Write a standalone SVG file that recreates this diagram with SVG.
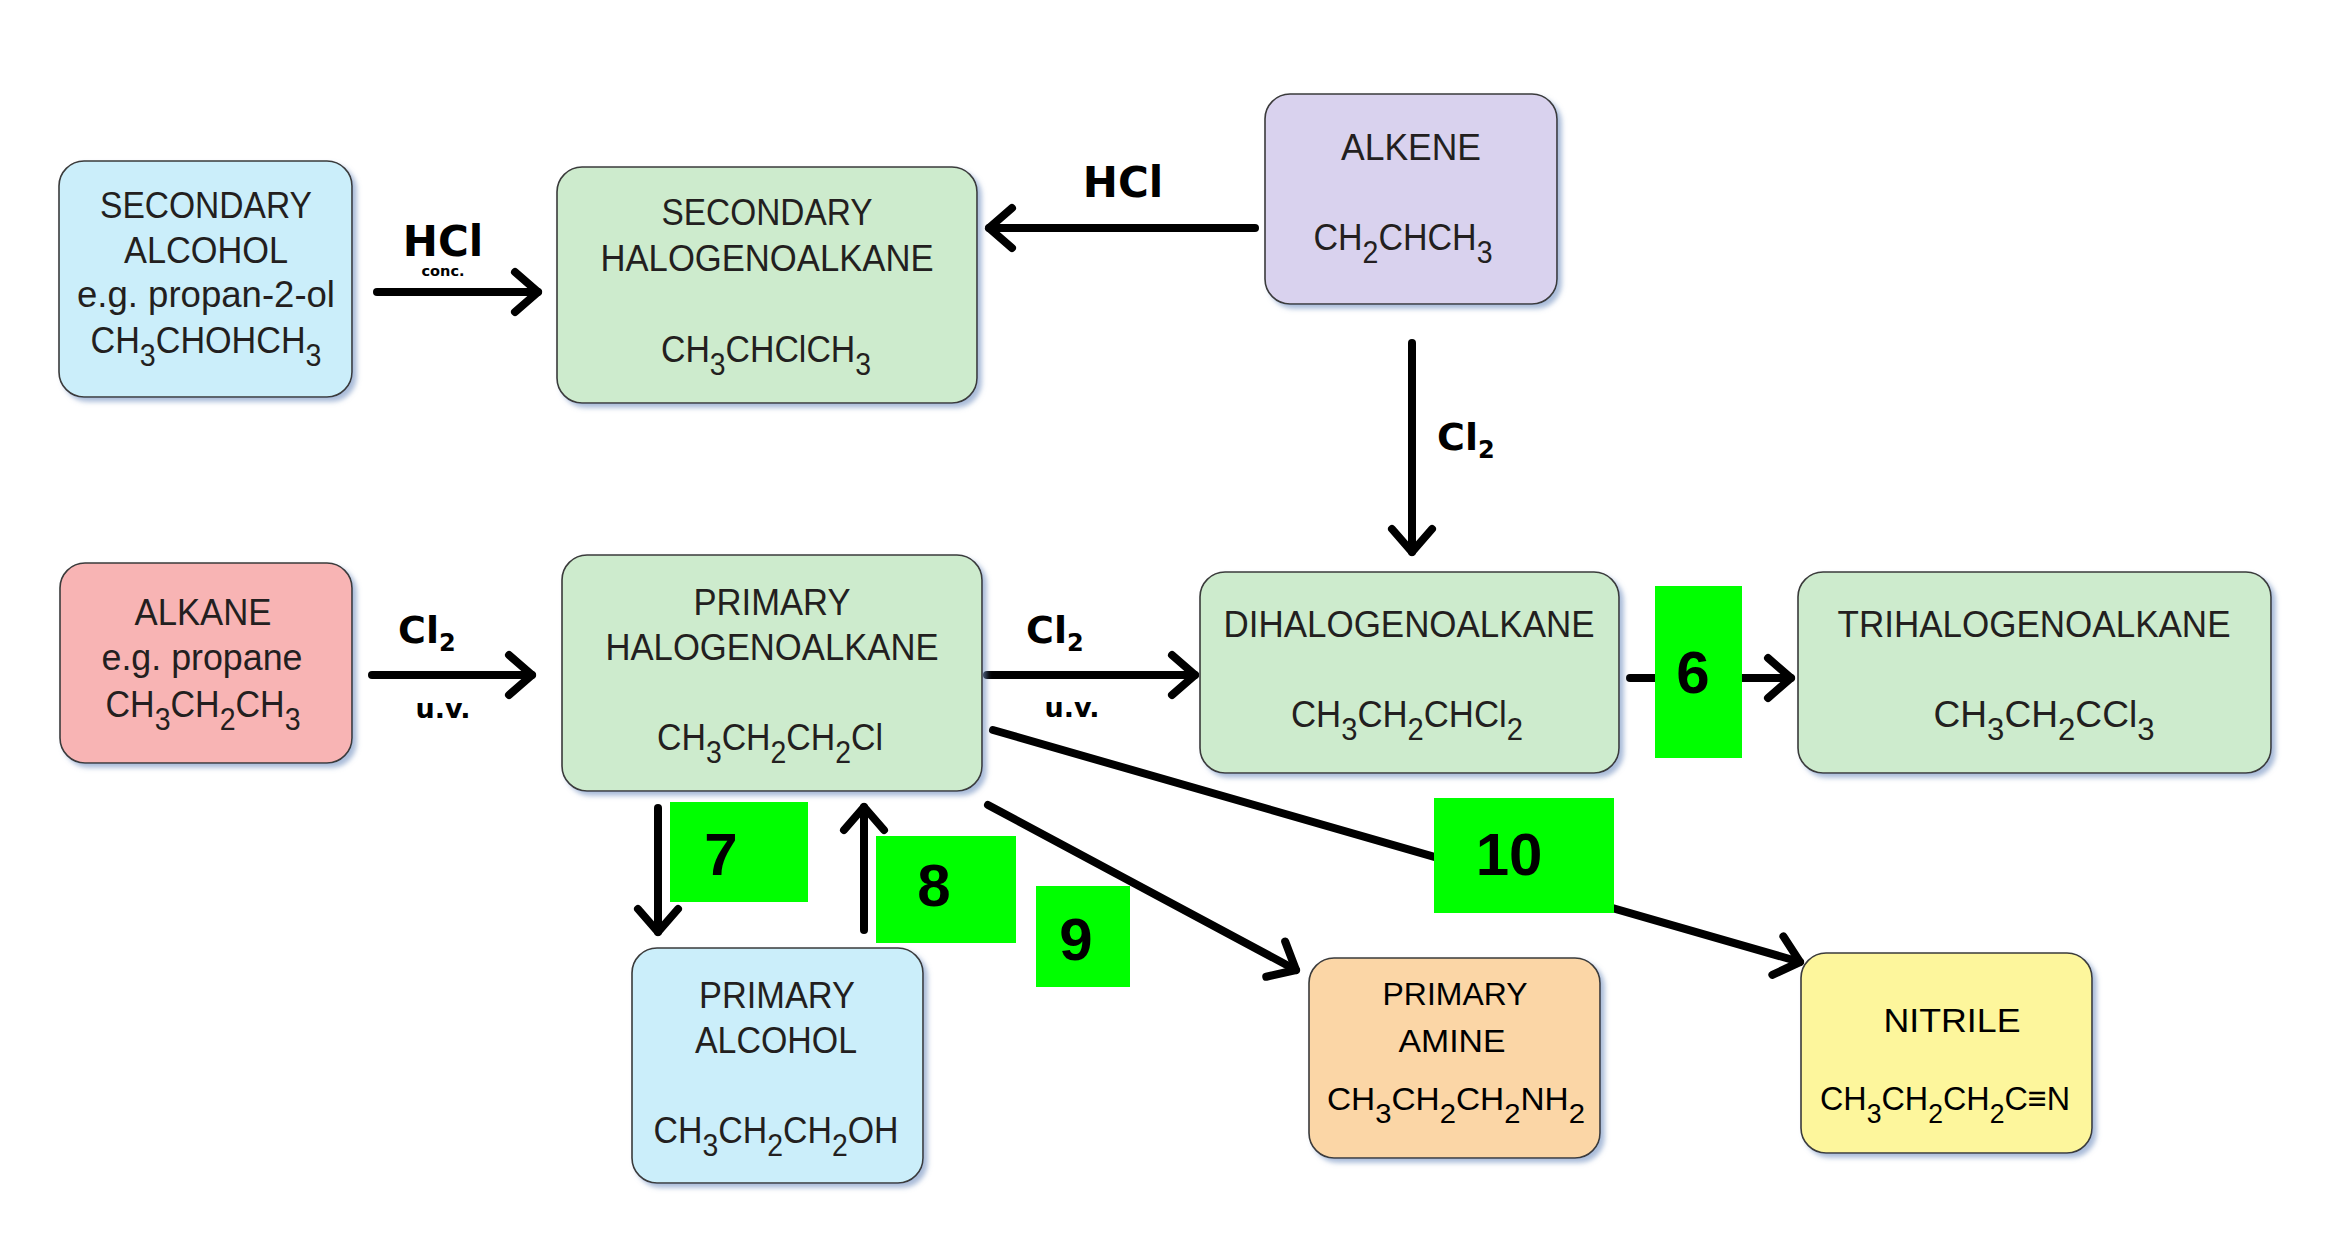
<svg xmlns="http://www.w3.org/2000/svg" width="2336" height="1244" viewBox="0 0 2336 1244">
<style>
.box{stroke:#3a3a3a;stroke-width:1.6;filter:url(#sh)}
.blue{fill:#cbeefa}.green{fill:#cdebcd}.lav{fill:#d9d2ee}.pink{fill:#f8b4b4}.orange{fill:#fbd6a6}.yellow{fill:#fdf69c}
.t{font-family:"Liberation Sans",Arial,sans-serif;font-size:37px;fill:#231f20;text-anchor:middle}
.a{font-size:32px;fill:#000}
.n{font-size:34px;fill:#000}
.sb{font-size:31px}
.sa{font-size:28px}
.lbl{font-family:"DejaVu Sans",Verdana,sans-serif;font-weight:bold;fill:#000}
.num{font-family:"Liberation Sans",Arial,sans-serif;font-weight:bold;font-size:60px;fill:#000;text-anchor:middle}
.gb{fill:#00ff00}
.ln{fill:none;stroke:#000;stroke-width:8;stroke-linecap:round;marker-end:url(#ah)}
</style>
<defs>
<filter id="sh" x="-10%" y="-10%" width="125%" height="125%">
<feDropShadow dx="4" dy="4" stdDeviation="2.5" flood-color="#6f8fc0" flood-opacity="0.6"/>
</filter>
<marker id="ah" markerUnits="userSpaceOnUse" markerWidth="60" markerHeight="60" viewBox="-30 -30 60 60" refX="0" refY="0" orient="auto" overflow="visible">
<path d="M-23,-20 L0,0 L-23,20" fill="none" stroke="#000" stroke-width="8" stroke-linecap="round" stroke-linejoin="round"/>
</marker>
</defs>
<rect x="0" y="0" width="2336" height="1244" fill="#fff"/>

<g id="connectors">
<line class="ln" x1="377" y1="292" x2="538" y2="292"/>
<line class="ln" x1="1255" y1="228" x2="989" y2="228"/>
<line class="ln" x1="1412" y1="343" x2="1412" y2="552"/>
<line class="ln" x1="372" y1="675" x2="532" y2="675"/>
<line class="ln" x1="987" y1="675" x2="1195" y2="675"/>
<line class="ln" x1="1630" y1="678" x2="1791" y2="678"/>
<line class="ln" x1="658" y1="808" x2="658" y2="932"/>
<line class="ln" x1="864" y1="930" x2="864" y2="807"/>
<line class="ln" x1="988" y1="805" x2="1296" y2="970"/>
<line class="ln" x1="993" y1="730" x2="1800" y2="962"/>
<text class="lbl" x="443" y="256" font-size="42" text-anchor="middle">HCl</text>
<text class="lbl" x="443" y="276" font-size="14.5" text-anchor="middle">conc.</text>
<text class="lbl" x="1123" y="197" font-size="42" text-anchor="middle">HCl</text>
<text class="lbl" x="1437" y="450" font-size="38">Cl<tspan font-size="24" dy="8">2</tspan></text>
<text class="lbl" x="398" y="643" font-size="38">Cl<tspan font-size="24" dy="8">2</tspan></text>
<text class="lbl" x="443" y="718" font-size="27" text-anchor="middle">u.v.</text>
<text class="lbl" x="1026" y="643" font-size="38">Cl<tspan font-size="24" dy="8">2</tspan></text>
<text class="lbl" x="1072" y="717" font-size="27" text-anchor="middle">u.v.</text>
</g>

<g id="step6"><rect class="gb" x="1655" y="586" width="87" height="172"/><text class="num" x="1693" y="693">6</text></g>
<g id="step7"><rect class="gb" x="670" y="802" width="138" height="100"/><text class="num" x="721" y="875">7</text></g>
<g id="step8"><rect class="gb" x="876" y="836" width="140" height="107"/><text class="num" x="934" y="906">8</text></g>
<g id="step9"><rect class="gb" x="1036" y="886" width="94" height="101"/><text class="num" x="1076" y="960">9</text></g>
<g id="step10"><rect class="gb" x="1434" y="798" width="180" height="115"/><text class="num" x="1509" y="875">10</text></g>

<g id="secondary-alcohol">
<rect class="box blue" x="59" y="161" width="293" height="236" rx="25"/>
<text class="t" x="206" y="218" textLength="212" lengthAdjust="spacingAndGlyphs">SECONDARY</text>
<text class="t" x="206" y="263" textLength="164" lengthAdjust="spacingAndGlyphs">ALCOHOL</text>
<text class="t" x="206" y="307" textLength="258" lengthAdjust="spacingAndGlyphs">e.g. propan-2-ol</text>
<text class="t" x="206" y="353" textLength="231" lengthAdjust="spacingAndGlyphs">CH<tspan class="sb" dy="13">3</tspan><tspan dy="-13">CHOHCH</tspan><tspan class="sb" dy="13">3</tspan></text>
</g>

<g id="secondary-halogenoalkane">
<rect class="box green" x="557" y="167" width="420" height="236" rx="25"/>
<text class="t" x="767" y="225" textLength="211" lengthAdjust="spacingAndGlyphs">SECONDARY</text>
<text class="t" x="767" y="271" textLength="333" lengthAdjust="spacingAndGlyphs">HALOGENOALKANE</text>
<text class="t" x="766" y="362" textLength="210" lengthAdjust="spacingAndGlyphs">CH<tspan class="sb" dy="13">3</tspan><tspan dy="-13">CHClCH</tspan><tspan class="sb" dy="13">3</tspan></text>
</g>

<g id="alkene">
<rect class="box lav" x="1265" y="94" width="292" height="210" rx="25"/>
<text class="t" x="1411" y="160" textLength="140" lengthAdjust="spacingAndGlyphs">ALKENE</text>
<text class="t" x="1403" y="250" textLength="179" lengthAdjust="spacingAndGlyphs">CH<tspan class="sb" dy="13">2</tspan><tspan dy="-13">CHCH</tspan><tspan class="sb" dy="13">3</tspan></text>
</g>

<g id="alkane">
<rect class="box pink" x="60" y="563" width="292" height="200" rx="25"/>
<text class="t" x="203" y="625" textLength="137" lengthAdjust="spacingAndGlyphs">ALKANE</text>
<text class="t" x="202" y="670" textLength="201" lengthAdjust="spacingAndGlyphs">e.g. propane</text>
<text class="t" x="203" y="717" textLength="195" lengthAdjust="spacingAndGlyphs">CH<tspan class="sb" dy="13">3</tspan><tspan dy="-13">CH</tspan><tspan class="sb" dy="13">2</tspan><tspan dy="-13">CH</tspan><tspan class="sb" dy="13">3</tspan></text>
</g>

<g id="primary-halogenoalkane">
<rect class="box green" x="562" y="555" width="420" height="236" rx="25"/>
<text class="t" x="772" y="615" textLength="157" lengthAdjust="spacingAndGlyphs">PRIMARY</text>
<text class="t" x="772" y="660" textLength="333" lengthAdjust="spacingAndGlyphs">HALOGENOALKANE</text>
<text class="t" x="770" y="750" textLength="226" lengthAdjust="spacingAndGlyphs">CH<tspan class="sb" dy="13">3</tspan><tspan dy="-13">CH</tspan><tspan class="sb" dy="13">2</tspan><tspan dy="-13">CH</tspan><tspan class="sb" dy="13">2</tspan><tspan dy="-13">Cl</tspan></text>
</g>

<g id="dihalogenoalkane">
<rect class="box green" x="1200" y="572" width="419" height="201" rx="25"/>
<text class="t" x="1409" y="637" textLength="371" lengthAdjust="spacingAndGlyphs">DIHALOGENOALKANE</text>
<text class="t" x="1407" y="727" textLength="232" lengthAdjust="spacingAndGlyphs">CH<tspan class="sb" dy="13">3</tspan><tspan dy="-13">CH</tspan><tspan class="sb" dy="13">2</tspan><tspan dy="-13">CHCl</tspan><tspan class="sb" dy="13">2</tspan></text>
</g>

<g id="trihalogenoalkane">
<rect class="box green" x="1798" y="572" width="473" height="201" rx="25"/>
<text class="t" x="2034" y="637" textLength="393" lengthAdjust="spacingAndGlyphs">TRIHALOGENOALKANE</text>
<text class="t" x="2044" y="727" textLength="221" lengthAdjust="spacingAndGlyphs">CH<tspan class="sb" dy="13">3</tspan><tspan dy="-13">CH</tspan><tspan class="sb" dy="13">2</tspan><tspan dy="-13">CCl</tspan><tspan class="sb" dy="13">3</tspan></text>
</g>

<g id="primary-alcohol">
<rect class="box blue" x="632" y="948" width="291" height="235" rx="25"/>
<text class="t" x="777" y="1008" textLength="156" lengthAdjust="spacingAndGlyphs">PRIMARY</text>
<text class="t" x="776" y="1053" textLength="162" lengthAdjust="spacingAndGlyphs">ALCOHOL</text>
<text class="t" x="776" y="1143" textLength="245" lengthAdjust="spacingAndGlyphs">CH<tspan class="sb" dy="13">3</tspan><tspan dy="-13">CH</tspan><tspan class="sb" dy="13">2</tspan><tspan dy="-13">CH</tspan><tspan class="sb" dy="13">2</tspan><tspan dy="-13">OH</tspan></text>
</g>

<g id="primary-amine">
<rect class="box orange" x="1309" y="958" width="291" height="200" rx="25"/>
<text class="t a" x="1455" y="1005" textLength="145" lengthAdjust="spacingAndGlyphs">PRIMARY</text>
<text class="t a" x="1452" y="1052" textLength="107" lengthAdjust="spacingAndGlyphs">AMINE</text>
<text class="t a" x="1456" y="1110" textLength="258" lengthAdjust="spacingAndGlyphs">CH<tspan class="sa" dy="13">3</tspan><tspan dy="-13">CH</tspan><tspan class="sa" dy="13">2</tspan><tspan dy="-13">CH</tspan><tspan class="sa" dy="13">2</tspan><tspan dy="-13">NH</tspan><tspan class="sa" dy="13">2</tspan></text>
</g>

<g id="nitrile">
<rect class="box yellow" x="1801" y="953" width="291" height="200" rx="25"/>
<text class="t n" x="1952" y="1032" textLength="137" lengthAdjust="spacingAndGlyphs">NITRILE</text>
<text class="t n" x="1945" y="1110" textLength="250" lengthAdjust="spacingAndGlyphs">CH<tspan class="sa" dy="13">3</tspan><tspan dy="-13">CH</tspan><tspan class="sa" dy="13">2</tspan><tspan dy="-13">CH</tspan><tspan class="sa" dy="13">2</tspan><tspan dy="-13">C≡N</tspan></text>
</g>
</svg>
